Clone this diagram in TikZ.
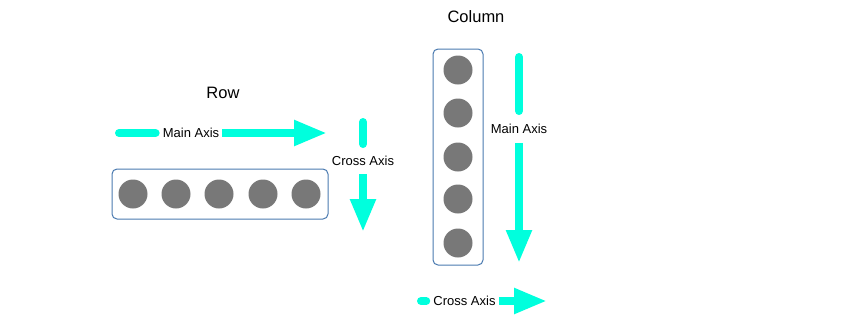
\documentclass[tikz,border=0pt]{standalone}
\usepackage{fontspec}
\setmainfont{Liberation Sans}
\usetikzlibrary{arrows.meta}
\definecolor{axiscol}{HTML}{00FFDD}
\definecolor{boxcol}{HTML}{4A7AB0}
\definecolor{dotcol}{HTML}{787878}
\begin{document}
\begin{tikzpicture}[x=1pt,y=-1pt,
  axisline/.style={draw=axiscol,line width=8pt,line cap=round,shorten >=4pt},
  axisarrow/.style={draw=axiscol,line width=8pt,-{Triangle[length=33pt,width=24pt]}},
  axislabel/.style={font=\fontsize{13pt}{15pt}\selectfont,inner xsep=3pt,inner ysep=8pt},
  title/.style={font=\fontsize{16.5pt}{18pt}\selectfont},
  container/.style={draw=boxcol,line width=1pt,rounded corners=5pt},
  dot/.style={circle,fill=dotcol,minimum size=29pt,inner sep=0pt}
]
\useasboundingbox[fill=white] (0,0) rectangle (846,327);

% ---- Row ----
\node[title] (rowtitle) at (223,93) {Row};
\coordinate (rmS) at (119,133);
\node[axislabel] (rmL) at (191,133) {Main Axis};
\coordinate (rmE) at (327,133);
\draw[axisline] (rmS) -- (rmL.west);
\draw[axisarrow] (rmL.east) -- (rmE);

\draw[container] (112,169) rectangle (328,219);
\foreach \i/\x in {1/133,2/176,3/219,4/263,5/306}
  \node[dot] (rd\i) at (\x,194) {};

\coordinate (rcS) at (363,122);
\node[axislabel,inner ysep=8pt] (rcL) at (363,161) {Cross Axis};
\coordinate (rcE) at (363,232);
\draw[axisline] (rcS) -- (rcL.north);
\draw[axisarrow] (rcL.south) -- (rcE);

% ---- Column ----
\node[title] (coltitle) at (476,17) {Column};
\draw[container] (433,49) rectangle (483,265);
\foreach \i/\y in {1/70,2/113,3/157,4/199,5/243}
  \node[dot] (cd\i) at (458,\y) {};

\coordinate (cmS) at (519,57);
\node[axislabel,inner ysep=9pt] (cmL) at (519,129) {Main Axis};
\coordinate (cmE) at (519,263);
\draw[axisline] (cmS) -- (cmL.north);
\draw[axisarrow] (cmL.south) -- (cmE);

\coordinate (ccS) at (421,301);
\node[axislabel] (ccL) at (464.5,301) {Cross Axis};
\coordinate (ccE) at (547,301);
\draw[axisline] (ccS) -- (ccL.west);
\draw[axisarrow] (ccL.east) -- (ccE);
\end{tikzpicture}
\end{document}
